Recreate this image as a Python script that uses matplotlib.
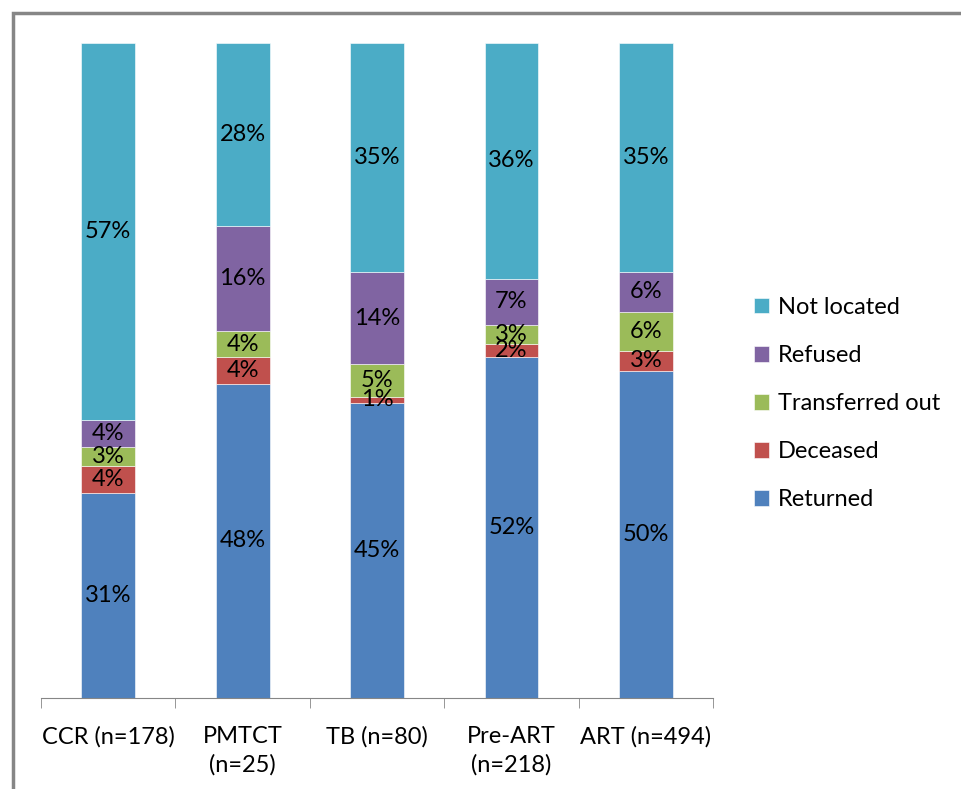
import numpy as np
import matplotlib.pyplot as plt
from matplotlib.patches import Rectangle

plt.rcParams['font.family'] = ['Lato', 'DejaVu Sans']

categories = ["CCR (n=178)", "PMTCT\n(n=25)", "TB (n=80)", "Pre-ART\n(n=218)", "ART (n=494)"]
returned = [31, 48, 45, 52, 50]
deceased = [4, 4, 1, 2, 3]
transferred = [3, 4, 5, 3, 6]
refused = [4, 16, 14, 7, 6]
not_located = [57, 28, 35, 36, 35]

series = [
    ("Returned", returned, "#4F81BD"),
    ("Deceased", deceased, "#C0504D"),
    ("Transferred out", transferred, "#9BBB59"),
    ("Refused", refused, "#8064A2"),
    ("Not located", not_located, "#4BACC6"),
]

totals = np.sum([s[1] for s in series], axis=0)

fig = plt.figure(figsize=(9.61, 7.89), dpi=100)
ax = fig.add_axes([0.0427, 0.1153, 0.6993, 0.8302])

x = np.arange(len(categories))
bottom = np.zeros(len(categories))
handles = []
for name, vals, color in series:
    frac = np.array(vals) / totals
    bars = ax.bar(x, frac, width=0.4, bottom=bottom, color=color,
                  edgecolor="white", linewidth=0.4, label=name)
    handles.append(bars)
    for xi, b, f, v in zip(x, bottom, frac, vals):
        ax.text(xi, b + f / 2, f"{v}%", ha="center", va="center",
                fontsize=17, color="black")
    bottom += frac

ax.set_xlim(-0.5, len(categories) - 0.5)
ax.set_ylim(0, 1)
for side in ["left", "right", "top"]:
    ax.spines[side].set_visible(False)
ax.spines["bottom"].set_color("#868686")
ax.set_yticks([])
ax.set_xticks(x)
ax.set_xticklabels(categories, fontsize=17, va="top", linespacing=1.4)
ax.tick_params(axis="x", length=0, pad=20)
ax.set_xticks(np.arange(len(categories) + 1) - 0.5, minor=True)
ax.tick_params(axis="x", which="minor", length=7, color="#868686", direction="out")

leg = fig.legend(handles[::-1], [s[0] for s in series][::-1],
                 loc="center left", bbox_to_anchor=(0.762, 0.4885),
                 frameon=False, fontsize=17, handlelength=0.65,
                 handleheight=0.65, handletextpad=0.4, labelspacing=1.15)

fig.patches.append(Rectangle((12.5 / 961, -0.1), 1.2, 1.1 - 13.5 / 789,
                             transform=fig.transFigure, fill=False,
                             edgecolor="#868686", linewidth=2.5))

fig.savefig("out.png", dpi=100)
